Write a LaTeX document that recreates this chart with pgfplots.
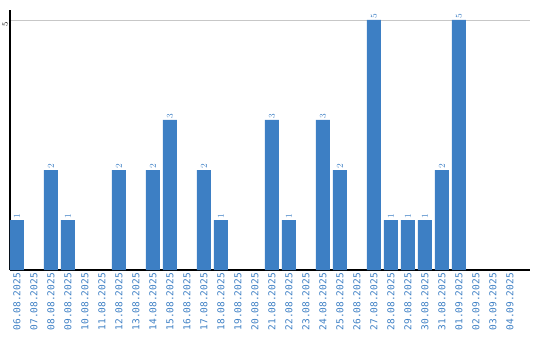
\documentclass[border=0pt]{standalone}
\usepackage{pgfplots}
\pgfplotsset{compat=1.18}
\usepackage{fontspec}
\setmainfont{DejaVu Sans}
\newfontfamily\monofont{DejaVu Sans Mono}
\definecolor{barblue}{HTML}{3D7FC4}
\begin{document}
\begin{tikzpicture}
\begin{axis}[
  scale only axis, width=520pt, height=260pt,
  xmin=-0.41, xmax=30.18, ymin=0, ymax=5.2,
  axis x line*=bottom, axis y line*=left,
  axis line style={-, black, line width=1.2pt},
  ytick={5}, ymajorgrids, grid style={black!22, line width=0.8pt},
  yticklabel style={rotate=90, anchor=south east, font=\monofont\fontsize{8}{8}\selectfont, text=black, inner sep=2pt},
  xtick={0,...,29},
  xticklabels={06.08.2025,07.08.2025,08.08.2025,09.08.2025,10.08.2025,11.08.2025,12.08.2025,13.08.2025,14.08.2025,15.08.2025,16.08.2025,17.08.2025,18.08.2025,19.08.2025,20.08.2025,21.08.2025,22.08.2025,23.08.2025,24.08.2025,25.08.2025,26.08.2025,27.08.2025,28.08.2025,29.08.2025,30.08.2025,31.08.2025,01.09.2025,02.09.2025,03.09.2025,04.09.2025},
  xticklabel style={rotate=90, anchor=east, font=\monofont\fontsize{9.5}{9.5}\selectfont, text=barblue, inner sep=3pt},
  major tick length=0pt,
  ybar, bar width=14pt, bar shift=0pt,
  nodes near coords,
  every node near coord/.append style={rotate=90, anchor=west, font=\monofont\fontsize{9}{9}\selectfont, text=barblue, inner sep=1.5pt},
  clip=false,
]
\addplot[fill=barblue, draw=none] coordinates {
(0,1) (2,2) (3,1) (6,2) (8,2) (9,3) (11,2) (12,1) (15,3) (16,1)
(18,3) (19,2) (21,5) (22,1) (23,1) (24,1) (25,2) (26,5)
};
\coordinate (ll) at (rel axis cs:0,0);
\coordinate (ur) at (rel axis cs:1,1);
\end{axis}
\pgfresetboundingbox
\path ([xshift=-10pt,yshift=-70pt]ll) rectangle ([xshift=10pt,yshift=10pt]ur);
\end{tikzpicture}
\end{document}
